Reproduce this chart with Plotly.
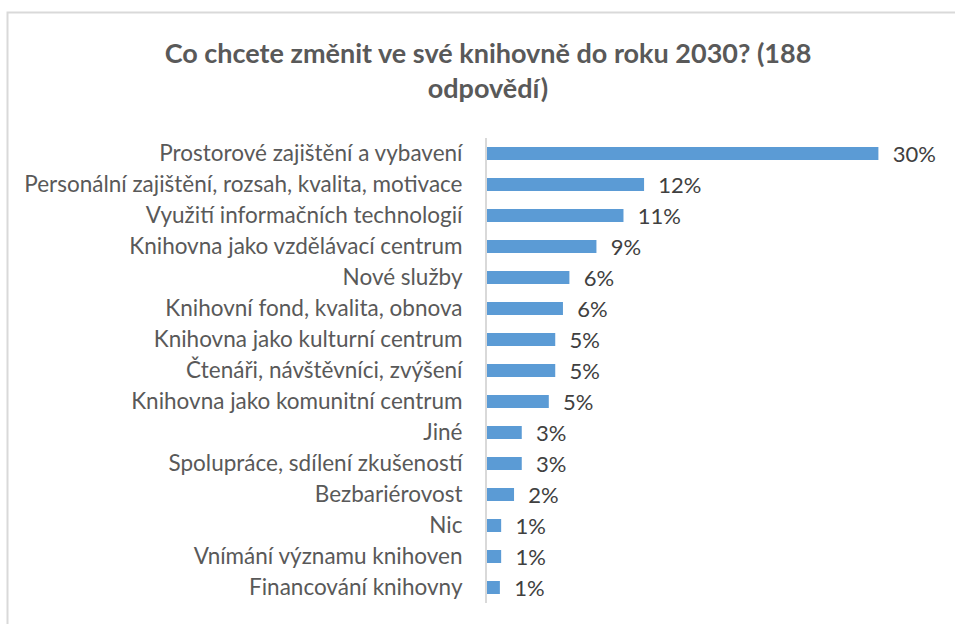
import plotly.graph_objects as go

# categories top to bottom, as shown in the chart
categories = [
    "Prostorové zajištění a vybavení",
    "Personální zajištění, rozsah, kvalita, motivace",
    "Využití informačních technologií",
    "Knihovna jako vzdělávací centrum",
    "Nové služby",
    "Knihovní fond, kvalita, obnova",
    "Knihovna jako kulturní centrum",
    "Čtenáři, návštěvníci, zvýšení",
    "Knihovna jako komunitní centrum",
    "Jiné",
    "Spolupráce, sdílení zkušeností",
    "Bezbariérovost",
    "Nic",
    "Vnímání významu knihoven",
    "Financování knihovny",
]
shares = [0.304, 0.122, 0.106, 0.085, 0.064, 0.059, 0.053, 0.053, 0.048,
          0.027, 0.027, 0.021, 0.011, 0.011, 0.010]

W, H = 955, 624
L, R, T, B = 487, 56, 138, 21

fig = go.Figure(
    go.Bar(
        x=shares,
        y=categories,
        orientation="h",
        marker=dict(color="#5B9BD5", line=dict(width=0)),
        width=0.42,
        texttemplate="  %{x:.0%}",
        textposition="outside",
        constraintext="none",
        textfont=dict(family="Lato", size=22, color="#404040"),
        cliponaxis=False,
        hoverinfo="skip",
    )
)

# light grey chart frame (only top and left edge visible in the crop)
pw, ph = W - L - R, H - T - B
fig.add_shape(
    type="rect", xref="paper", yref="paper",
    x0=(7.5 - L) / pw, x1=(W + 20 - L) / pw,
    y0=(H - B - (H + 20)) / ph, y1=(H - B - 12.5) / ph,
    line=dict(color="#D9D9D9", width=2), fillcolor="rgba(0,0,0,0)",
    layer="below",
)

fig.update_layout(
    width=W, height=H,
    margin=dict(l=L, r=R, t=T, b=B),
    paper_bgcolor="white", plot_bgcolor="white",
    showlegend=False,
    title=dict(
        text="Co chcete změnit ve své knihovně do roku 2030? (188<br>odpovědí)",
        x=488 / W, xanchor="center", y=1 - 63 / H, yanchor="top",
        font=dict(family="Lato", size=27, color="#595959", weight="bold"),
    ),
    xaxis=dict(range=[0, 0.32], visible=False),
    yaxis=dict(
        autorange="reversed",
        showgrid=False, zeroline=False,
        showline=True, linecolor="#D9D9D9", linewidth=2,
        ticks="", ticklabelstandoff=18,
        tickfont=dict(family="Lato", size=22.5, color="#595959"),
    ),
)

fig.write_html(
    "out.html",
    config={"displayModeBar": False},
    post_script="document.body.style.margin='0';",
)
